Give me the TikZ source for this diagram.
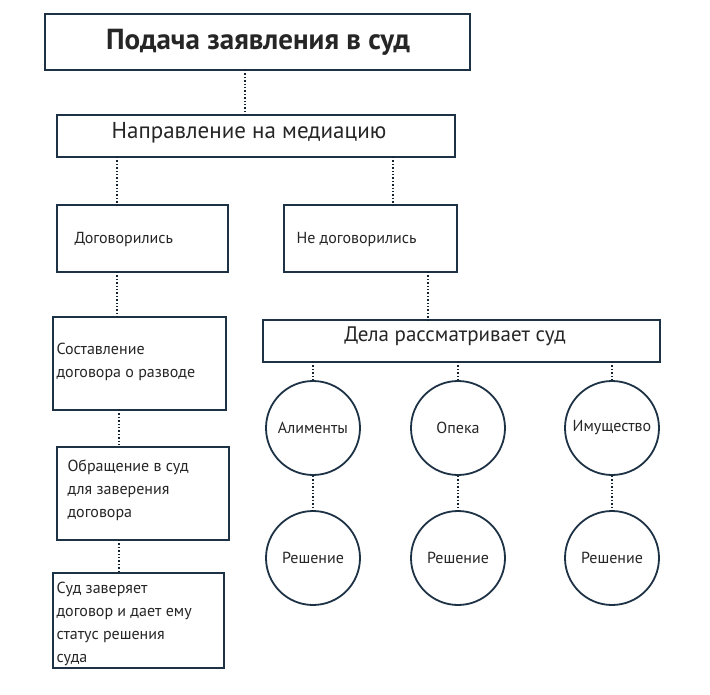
\documentclass[tikz,border=0pt]{standalone}
\usepackage{fontspec}
\setmainfont{PT Sans}
\begin{document}
\begin{tikzpicture}[x=1pt,y=-1pt,
  bx/.style={draw=navy,line width=1.6pt,fill=white},
  cir/.style={draw=navy,line width=1.8pt,circle,minimum size=94pt,inner sep=0pt,font=\fontsize{16}{18}\selectfont,text=black!85},
  dl/.style={draw=navy!70!black,line width=1.4pt,dotted},
  t/.style={font=\fontsize{16}{23}\selectfont,text=black!85,align=left,anchor=west}]
\definecolor{navy}{HTML}{1E3246}
\useasboundingbox (0,0) rectangle (710,695);
\fill[white] (0,0) rectangle (710,695);
\draw[bx] (45,14) rectangle (470,70);
\node[text=black!85] (a) at (258,42) {\fontsize{29}{32}\selectfont\bfseries Подача заявления в суд};
\draw[bx] (57,115) rectangle (455,157);
\node[text=black!85] (b) at (249,133) {\fontsize{23}{26}\selectfont Направление на медиацию};
\draw[bx] (57,205) rectangle (228,272);
\node[t] (c) at (71,240) {Договорились};
\draw[bx] (284,205) rectangle (457,272);
\node[t] (d) at (293,240) {Не договорились};
\draw[bx] (53,317) rectangle (226,410);
\node[t] (e) at (53,362) {Составление\\договора о разводе};
\draw[bx] (263,320) rectangle (660,362);
\node[text=black!85] (f) at (455,336) {\fontsize{21}{24}\selectfont Дела рассматривает суд};
\draw[bx] (57,447) rectangle (229,540);
\node[t] (g) at (64,490) {Обращение в суд\\для заверения\\договора};
\draw[bx] (53,573) rectangle (224,668);
\node[t] (h) at (53,624) {Суд заверяет\\договор и дает ему\\статус решения\\суда};
\node[cir] (c1) at (313,428) {Алименты};
\node[cir] (c2) at (458,428) {Опека};
\node[cir] (c3) at (612,428) {Имущество};
\node[cir] (r1) at (313,558) {Решение};
\node[cir] (r2) at (458,558) {Решение};
\node[cir] (r3) at (612,558) {Решение};
\draw[dl] (245,70) -- (245,115);
\draw[dl] (117,157) -- (117,205);
\draw[dl] (393,157) -- (393,205);
\draw[dl] (117,272) -- (117,317);
\draw[dl] (428,272) -- (428,320);
\draw[dl] (119,410) -- (119,447);
\draw[dl] (119,540) -- (119,573);
\foreach \x/\a/\b in {313/c1/r1,458/c2/r2,612/c3/r3}{
  \draw[dl] (\x,362) -- (\a.north);
  \draw[dl] (\a.south) -- (\b.north);}
\end{tikzpicture}
\end{document}
